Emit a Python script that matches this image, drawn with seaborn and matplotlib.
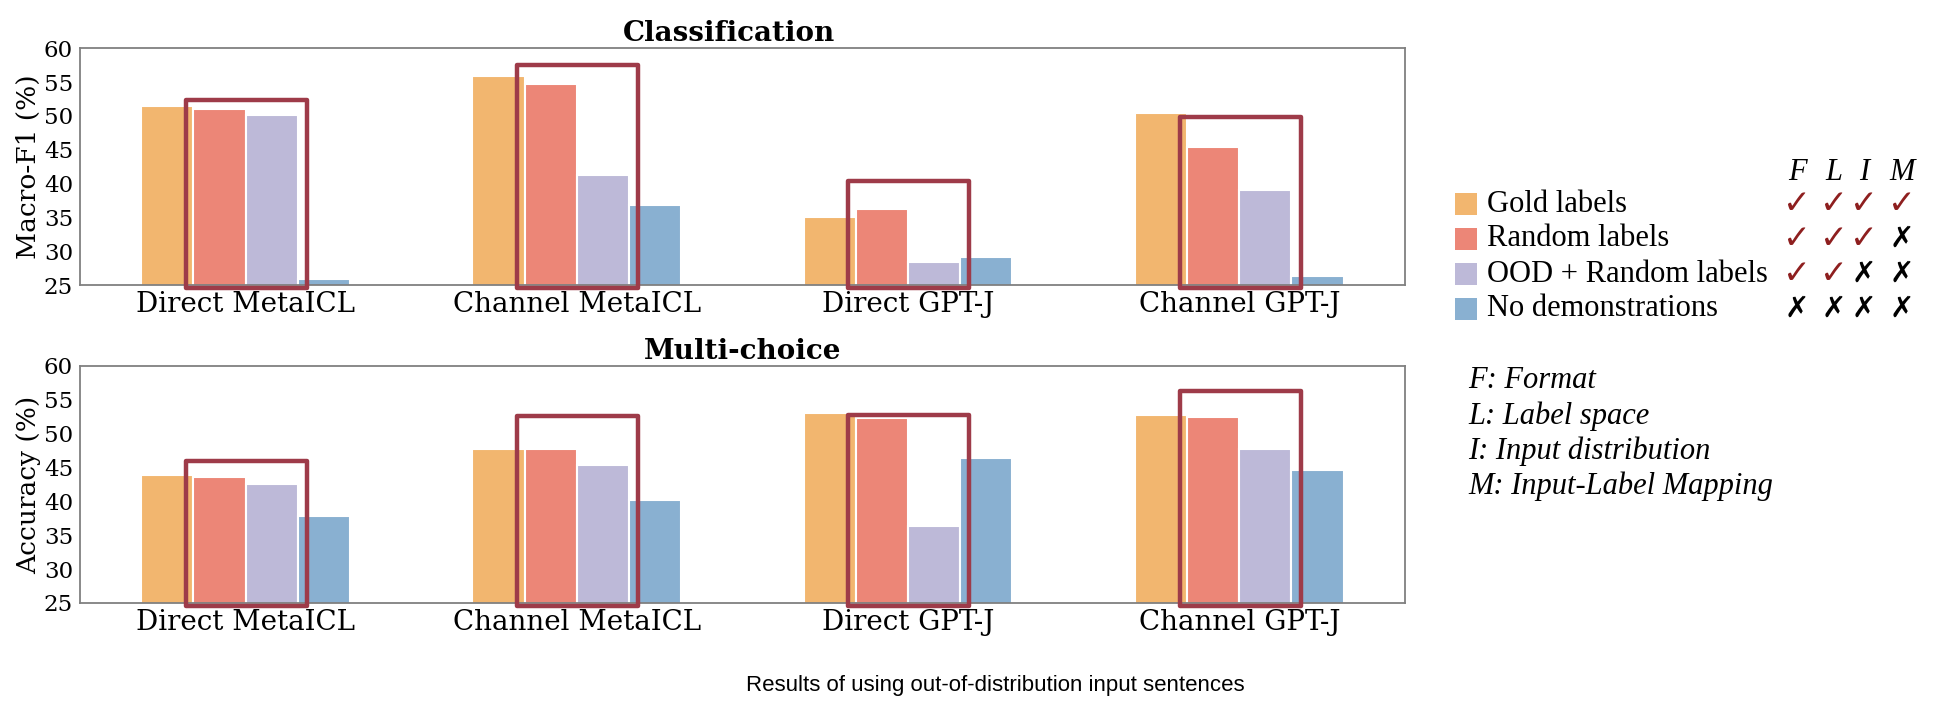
import numpy as np
import pandas as pd
import matplotlib
matplotlib.use("Agg")
import matplotlib.pyplot as plt
import seaborn as sns
from matplotlib.patches import Rectangle

# data
models = ["Direct MetaICL", "Channel MetaICL", "Direct GPT-J", "Channel GPT-J"]
settings = ["Gold labels", "Random labels", "OOD + Random labels", "No demonstrations"]
colors = ["#F2B66F", "#EC8677", "#BDB9D8", "#89B0D1"]

cls_gold = [51.5, 55.9, 35.1, 50.5]
cls_random = [51.0, 54.8, 36.3, 45.4]
cls_ood = [50.2, 41.2, 28.4, 39.0]
cls_nodemo = [25.9, 36.9, 29.2, 26.3]
cls_box_top = [52.4, 57.6, 40.4, 49.8]

mc_gold = [43.9, 47.8, 53.1, 52.8]
mc_random = [43.6, 47.8, 52.3, 52.5]
mc_ood = [42.6, 45.4, 36.3, 47.7]
mc_nodemo = [37.9, 40.2, 46.4, 44.7]
mc_box_top = [45.9, 52.6, 52.7, 56.3]

yticks = [25, 30, 35, 40, 45, 50, 55, 60]

# which aspects each setting keeps: Format, Label space, Input distribution, Mapping
aspects = ["F", "L", "I", "M"]
keeps = [[1, 1, 1, 1], [1, 1, 1, 0], [1, 1, 0, 0], [0, 0, 0, 0]]
definitions = ["F: Format", "L: Label space", "I: Input distribution", "M: Input-Label Mapping"]


def long_df(series):
    rows = []
    for s, vals in zip(settings, series):
        for m, v in zip(models, vals):
            rows.append({"model": m, "setting": s, "value": v})
    return pd.DataFrame(rows)


sns.set_style("white")
plt.rcParams.update({"text.color": "black", "axes.labelcolor": "black",
                     "xtick.color": "black", "ytick.color": "black"})
serif = ["DejaVu Serif"]
box_color = "#9E3B49"

fig = plt.figure(figsize=(19.6, 7.14), dpi=100)
ax1 = fig.add_axes([0.0408, 0.6008, 0.676, 0.3315])
ax2 = fig.add_axes([0.0408, 0.1555, 0.676, 0.332])

panels = [
    (ax1, [cls_gold, cls_random, cls_ood, cls_nodemo], cls_box_top, "Classification", "Macro-F1 (%)", 0.49),
    (ax2, [mc_gold, mc_random, mc_ood, mc_nodemo], mc_box_top, "Multi-choice", "Accuracy (%)", 0.5),
]

for ax, series, box_top, title, ylabel, tx in panels:
    df = long_df(series)
    sns.barplot(data=df, x="model", y="value", hue="setting", order=models,
                hue_order=settings, palette=colors, saturation=1, width=0.63, ax=ax,
                edgecolor="white", linewidth=1.5, legend=False)
    ax.set_ylim(25, 60)
    ax.set_yticks(yticks)
    ax.set_xlabel("")
    ax.set_ylabel(ylabel, fontsize=19, family=serif, labelpad=2)
    ax.set_title(title, fontsize=20, fontweight="bold", family=serif, pad=5, x=tx)
    ax.tick_params(axis="y", labelsize=16.5, length=4, width=1, color="#808080", pad=1)
    ax.tick_params(axis="x", labelsize=20, length=0, pad=4)
    for lab in ax.get_xticklabels() + ax.get_yticklabels():
        lab.set_family(serif)
    for sp in ax.spines.values():
        sp.set_color("#808080")
        sp.set_linewidth(1.3)
    # red frames around random / OOD bars
    for i, top in enumerate(box_top):
        ax.add_patch(Rectangle((i - 0.18, 24.5), 0.365, top - 24.5, fill=False,
                               edgecolor=box_color, linewidth=3.2, clip_on=False,
                               zorder=5, joinstyle="round"))

# legend block on the right
def fx(px):
    return px / 1960


def fy(py):
    return 1 - py / 714


leg_font = ["Liberation Serif", "DejaVu Sans"]
col_x = [1797, 1834, 1864, 1902]
row_y = [204, 239, 274, 309]

for x, a in zip(col_x, aspects):
    fig.text(fx(x), fy(172), a, fontsize=22, style="italic", family=leg_font,
             ha="center", va="center")

for r, (name, c, k) in enumerate(zip(settings, colors, keeps)):
    y = row_y[r]
    fig.add_artist(Rectangle((fx(1455), fy(y + 11)), 22 / 1960, 22 / 714,
                             facecolor=c, edgecolor="none", transform=fig.transFigure))
    fig.text(fx(1487), fy(y), name, fontsize=22, family=leg_font, va="center", ha="left")
    for x, ok in zip(col_x, k):
        if ok:
            fig.text(fx(x), fy(y), "\u2713", fontsize=24, color="#8E1F1F",
                     family=["DejaVu Sans"], ha="center", va="center", style="italic")
        else:
            fig.text(fx(x), fy(y), "\u2717", fontsize=21, color="black",
                     family=["DejaVu Sans"], fontweight="bold", ha="center", va="center")

for j, d in enumerate(definitions):
    fig.text(fx(1468), fy(381 + 35 * j), d, fontsize=22, style="italic",
             family=leg_font, va="center", ha="left")

fig.text(fx(995), fy(685), "Results of using out-of-distribution input sentences",
         fontsize=16, family=["Liberation Sans"], ha="center", va="center")

fig.savefig("out.png", dpi=100)
